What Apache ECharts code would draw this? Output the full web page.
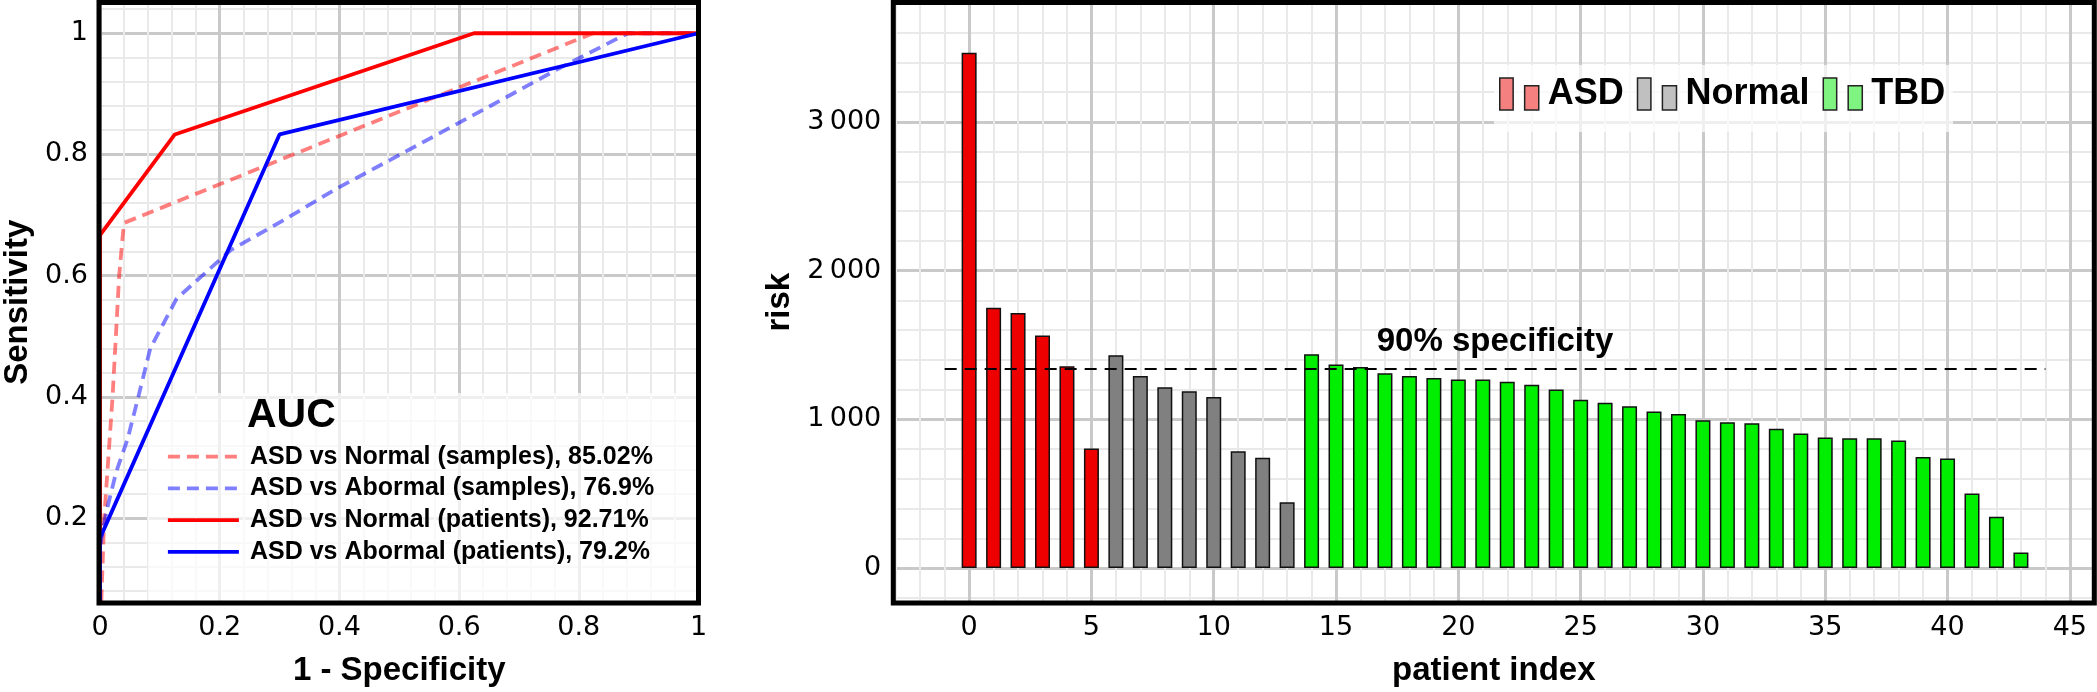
<!DOCTYPE html>
<html><head><meta charset="utf-8">
<script src="https://cdn.jsdelivr.net/npm/echarts@6/dist/echarts.min.js"></script>
<style>html,body{margin:0;padding:0;background:#fff}#c{width:2097px;height:692px}</style>
</head><body><div id="c"></div>
<script>
// ---------- ROC data (left panel) ----------
const rocNames = [
  'ASD vs Normal (samples), 85.02%',
  'ASD vs Abormal (samples), 76.9%',
  'ASD vs Normal (patients), 92.71%',
  'ASD vs Abormal (patients), 79.2%'
];
const rocSamplesNormal = [[0,0],[0.007,0.2],[0.021,0.4],[0.032,0.6],[0.04,0.687],[0.824,1],[1,1]];
const rocSamplesAbnormal = [[0,0],[0,0.15],[0.004,0.177],[0.013,0.22],[0.027,0.276],[0.046,0.33],[0.064,0.4],[0.084,0.48],[0.128,0.562],[0.218,0.642],[0.304,0.69],[0.396,0.744],[0.485,0.791],[0.652,0.88],[0.768,0.9425],[0.882,1],[1,1]];
const rocPatientsNormal = [[0,0],[0,0.667],[0.125,0.833],[0.625,1],[1,1]];
const rocPatientsAbnormal = [[0,0],[0,0.167],[0.3,0.833],[1,1]];

// ---------- risk data (right panel) ----------
const groupNames = ['ASD', 'Normal', 'TBD'];
const riskASD = [3465, 1750, 1714, 1564, 1357, 804];
const riskNormal = [1431, 1292, 1215, 1188, 1150, 786, 742, 443];
const riskTBD = [1437, 1369, 1351, 1309, 1292, 1277, 1268, 1268, 1253, 1233, 1200, 1132, 1111, 1088, 1052, 1035, 993, 981, 973, 937, 905, 878, 872, 872, 857, 747, 736, 501, 345, 105];
const threshold = 1342;
const thresholdLabel = '90% specificity';
const thresholdRange = [-1, 44];

// ---------- build ----------
const TICK_FONT = 'DejaVu Sans';
const BOLD_FONT = '"Liberation Sans", Arial, Helvetica, sans-serif';

let idx = 0;
function toPoints(arr){ return arr.map(v => [idx++, v]); }
const ptsASD = toPoints(riskASD);
const ptsNormal = toPoints(riskNormal);
const ptsTBD = toPoints(riskTBD);

const LG = {left: 99, top: 2.5, right: 2097 - 698.5, bottom: 692 - 603};
const RG = {left: 893.3, top: 2.5, right: 2097 - 2094.3, bottom: 692 - 603};

const majorLine = {show: true, lineStyle: {color: '#c9c9c9', width: 3}};
const minorLine = {show: true, lineStyle: {color: '#e9e9e9', width: 2}};
const tickLabel = {color: '#000', fontSize: 27, fontFamily: TICK_FONT, margin: 12};
const axisTitle = {color: '#000', fontSize: 33, fontWeight: 'bold', fontFamily: BOLD_FONT};

function thousands(v){
  const s = String(Math.round(v));
  return s.replace(/(\d)(?=(\d{3})+$)/g, '$1\u2009');
}

const LW = 3.8;

const option = {
  animation: false,
  backgroundColor: '#fff',
  grid: [
    {left: LG.left, top: LG.top, right: LG.right, bottom: LG.bottom, containLabel: false},
    {left: RG.left, top: RG.top, right: RG.right, bottom: RG.bottom, containLabel: false}
  ],
  title: {
    text: 'AUC', left: 247, top: 395, padding: 0,
    textStyle: {fontSize: 41, fontWeight: 'bold', fontFamily: BOLD_FONT, color: '#000'}
  },
  legend: [
    {
      data: rocNames, orient: 'vertical', left: 166, top: 443.7, padding: 0,
      itemWidth: 71, itemHeight: 14, itemGap: 5.7,
      itemStyle: {color: 'rgba(0,0,0,0)', borderWidth: 0, opacity: 0},
      lineStyle: {width: LW},
      textStyle: {fontSize: 25, fontWeight: 'bold', fontFamily: BOLD_FONT, color: '#000', lineHeight: 26, padding: [0,0,0,6]},
      selectedMode: false
    },
    {
      data: [
        {name: 'ASD', itemStyle: {color: '#f48080', borderColor: '#222', borderWidth: 1.5}},
        {name: 'Normal', itemStyle: {color: '#c0c0c0', borderColor: '#222', borderWidth: 1.5}},
        {name: 'TBD', itemStyle: {color: '#80f480', borderColor: '#222', borderWidth: 1.5}}
      ],
      icon: 'path://M0,0H13.4V32H0Z M24.9,7.7H39V32H24.9Z',
      orient: 'horizontal', left: 1499, top: 76, padding: 0,
      itemWidth: 39, itemHeight: 32, itemGap: 13,
      textStyle: {fontSize: 36, fontWeight: 'bold', fontFamily: BOLD_FONT, color: '#000', padding: [0,0,0,4]},
      selectedMode: false
    }
  ],
  xAxis: [
    {
      type: 'value', gridIndex: 0, min: 0, max: 1, interval: 0.2,
      name: '1 - Specificity', nameLocation: 'middle', nameGap: 52, nameTextStyle: axisTitle,
      axisLine: {show: false}, axisTick: {show: false},
      axisLabel: tickLabel,
      splitLine: majorLine,
      minorTick: {show: false, splitNumber: 5}, minorSplitLine: minorLine
    },
    {
      type: 'value', gridIndex: 1, min: -3.1, max: 46, splitNumber: 10,
      name: 'patient index', nameLocation: 'middle', nameGap: 52, nameTextStyle: axisTitle,
      axisLine: {show: false}, axisTick: {show: false},
      axisLabel: Object.assign({}, tickLabel, {showMinLabel: false, showMaxLabel: false}),
      splitLine: majorLine,
      minorTick: {show: false, splitNumber: 5}, minorSplitLine: minorLine
    }
  ],
  yAxis: [
    {
      type: 'value', gridIndex: 0, min: 0.0616, max: 1.0507, splitNumber: 5,
      name: 'Sensitivity', nameLocation: 'middle', nameGap: 66, nameRotate: 90, nameTextStyle: axisTitle,
      axisLine: {show: false}, axisTick: {show: false},
      axisLabel: Object.assign({}, tickLabel, {showMinLabel: false, showMaxLabel: false}),
      splitLine: majorLine,
      minorTick: {show: false, splitNumber: 5}, minorSplitLine: minorLine
    },
    {
      type: 'value', gridIndex: 1, min: -228, max: 3802, splitNumber: 4,
      name: 'risk', nameLocation: 'middle', nameGap: 90, nameRotate: 90, nameTextStyle: axisTitle,
      axisLine: {show: false}, axisTick: {show: false},
      axisLabel: Object.assign({}, tickLabel, {showMinLabel: false, showMaxLabel: false, formatter: thousands}),
      splitLine: majorLine,
      minorTick: {show: false, splitNumber: 5}, minorSplitLine: minorLine
    }
  ],
  series: [
    {name: rocNames[0], type: 'line', xAxisIndex: 0, yAxisIndex: 0, data: rocSamplesNormal, symbol: 'none', clip: true,
     color: 'rgba(255,0,0,0.5)', lineStyle: {color: 'rgba(255,0,0,0.5)', width: LW, type: [12, 7]}},
    {name: rocNames[1], type: 'line', xAxisIndex: 0, yAxisIndex: 0, data: rocSamplesAbnormal, symbol: 'none', clip: true,
     color: 'rgba(0,0,255,0.5)', lineStyle: {color: 'rgba(0,0,255,0.5)', width: LW, type: [12, 7]}},
    {name: rocNames[2], type: 'line', xAxisIndex: 0, yAxisIndex: 0, data: rocPatientsNormal, symbol: 'none', clip: true,
     color: '#ff0000', lineStyle: {color: '#ff0000', width: LW}},
    {name: rocNames[3], type: 'line', xAxisIndex: 0, yAxisIndex: 0, data: rocPatientsAbnormal, symbol: 'none', clip: true,
     color: '#0000ff', lineStyle: {color: '#0000ff', width: LW}},
    {name: groupNames[0], type: 'bar', xAxisIndex: 1, yAxisIndex: 1, data: ptsASD, barWidth: 15, barGap: '-100%',
     itemStyle: {color: '#ee0000', borderColor: '#111', borderWidth: 1.5},
     markLine: {
       silent: true, symbol: 'none',
       lineStyle: {color: '#000', width: 2, type: [12, 8]},
       label: {show: true, position: 'middle', formatter: thresholdLabel, distance: 10,
               fontSize: 33, fontWeight: 'bold', fontFamily: BOLD_FONT, color: '#000'},
       data: [[{coord: [thresholdRange[0], threshold]}, {coord: [thresholdRange[1], threshold]}]]
     }},
    {name: groupNames[1], type: 'bar', xAxisIndex: 1, yAxisIndex: 1, data: ptsNormal, barWidth: 15, barGap: '-100%',
     itemStyle: {color: '#808080', borderColor: '#111', borderWidth: 1.5}},
    {name: groupNames[2], type: 'bar', xAxisIndex: 1, yAxisIndex: 1, data: ptsTBD, barWidth: 15, barGap: '-100%',
     itemStyle: {color: '#00ee00', borderColor: '#111', borderWidth: 1.5}}
  ],
  graphic: [
    {type: 'rect', z: 3, silent: true, shape: {x: 148, y: 393, width: 549, height: 208}, style: {fill: 'rgba(255,255,255,0.7)'}},
    {type: 'rect', z: 3, silent: true, shape: {x: 1494, y: 65, width: 459, height: 67}, style: {fill: 'rgba(255,255,255,0.7)'}},
    {type: 'rect', z: 100, silent: true, shape: {x: 99, y: 2.5, width: 599.5, height: 600.5}, style: {fill: 'none', stroke: '#000', lineWidth: 5}},
    {type: 'rect', z: 100, silent: true, shape: {x: 893.3, y: 2.5, width: 1201, height: 600.5}, style: {fill: 'none', stroke: '#000', lineWidth: 5}}
  ]
};

const chart = echarts.init(document.getElementById('c'), null, {renderer: 'canvas'});
chart.setOption(option);
</script>
</body></html>
